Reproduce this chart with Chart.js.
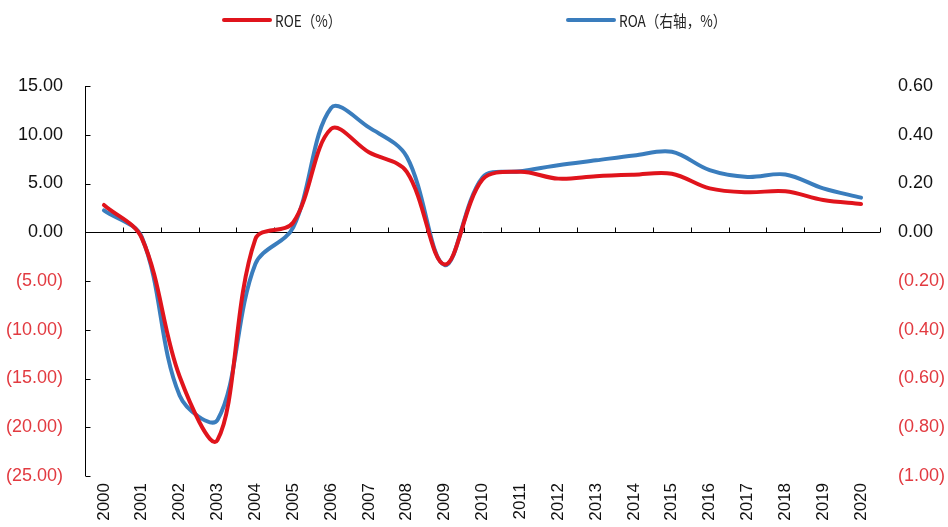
<!DOCTYPE html>
<html>
<head>
<meta charset="utf-8">
<script src="https://cdn.jsdelivr.net/npm/chart.js@4.4.0/dist/chart.umd.min.js"></script>
<style>
  html, body { margin: 0; padding: 0; background: #fff; }
  #wrap { position: relative; width: 948px; height: 527px; }
  #legend { position: absolute; top: 0; left: 0; width: 948px; height: 40px; font-family: "Noto Sans CJK SC", sans-serif; font-size: 16px; color: #222; }
  .item { position: absolute; top: 10px; display: flex; align-items: center; height: 20px; }
  .swatch { width: 50px; height: 4px; border-radius: 2px; margin-right: 3px; }
  .label { display: inline-block; transform: scaleX(0.85); transform-origin: left center; white-space: nowrap; }
</style>
</head>
<body>
<div id="wrap">
  <div id="legend"></div>
  <canvas id="chart" width="948" height="527"></canvas>
</div>
<script>
const years = ['2000', '2001', '2002', '2003', '2004', '2005', '2006', '2007', '2008', '2009', '2010',
  '2011', '2012', '2013', '2014', '2015', '2016', '2017', '2018', '2019', '2020'];
const roe = [2.8, -0.6, -14.8, -21.3, -0.7, 1.0, 10.6, 8.2, 6.2, -3.3, 5.4,
  6.2, 5.5, 5.75, 5.9, 6.0, 4.5, 4.1, 4.2, 3.3, 2.9];
const roa = [0.09, -0.02, -0.67, -0.77, -0.13, 0.02, 0.51, 0.43, 0.31, -0.135, 0.225,
  0.25, 0.275, 0.295, 0.315, 0.33, 0.255, 0.227, 0.237, 0.18, 0.142];
const seriesNames = ['ROE（%）', 'ROA（右轴，%）'];

const RED = '#e0141c';
const BLUE = '#3a7dbd';
const NEG_LABEL = '#e23a40';

// (5.00) style for negatives, as in accounting formats
function fmt(v) {
  const s = Math.abs(v).toFixed(2);
  return v < -1e-9 ? '(' + s + ')' : s;
}

// axis line on the left and the zero line, both with inward ticks
const axisLines = {
  id: 'axisLines',
  beforeDatasetsDraw(chart) {
    const { ctx, chartArea: a, scales: { x, y } } = chart;
    ctx.save();
    ctx.strokeStyle = '#000';
    ctx.lineWidth = 1;
    ctx.beginPath();
    const left = Math.round(a.left) + 0.5;
    ctx.moveTo(left, a.top);
    ctx.lineTo(left, a.bottom);
    y.ticks.forEach(t => {
      const py = Math.round(y.getPixelForValue(t.value)) + 0.5;
      ctx.moveTo(left, py);
      ctx.lineTo(left + 5, py);
    });
    const zy = Math.round(y.getPixelForValue(0)) + 0.5;
    ctx.moveTo(a.left, zy);
    ctx.lineTo(a.right, zy);
    const step = x.getPixelForValue(1) - x.getPixelForValue(0);
    for (let i = 0; i <= years.length; i++) {
      const px = Math.round(x.getPixelForValue(0) - step / 2 + i * step) + 0.5;
      ctx.moveTo(px, zy);
      ctx.lineTo(px, zy - 5);
    }
    ctx.stroke();
    ctx.restore();
  }
};

const tickFont = { family: 'Liberation Sans, Arial, sans-serif', size: 17 };

const chart = new Chart(document.getElementById('chart'), {
  type: 'line',
  data: {
    labels: years,
    datasets: [
      {
        label: seriesNames[0],
        data: roe,
        yAxisID: 'y',
        borderColor: RED,
        backgroundColor: RED,
        borderWidth: 4,
        tension: 0.35,
        pointRadius: 0,
        borderCapStyle: 'round'
      },
      {
        label: seriesNames[1],
        data: roa,
        yAxisID: 'y1',
        borderColor: BLUE,
        backgroundColor: BLUE,
        borderWidth: 4,
        tension: 0.35,
        pointRadius: 0,
        borderCapStyle: 'round'
      }
    ]
  },
  options: {
    responsive: false,
    animation: false,
    layout: { padding: { top: 86, left: 0, right: 0, bottom: 0 } },
    plugins: {
      legend: { display: false },
      tooltip: { enabled: false }
    },
    scales: {
      x: {
        offset: true,
        grid: { display: false, drawTicks: false },
        border: { display: false },
        ticks: {
          color: '#111',
          font: tickFont,
          minRotation: 90,
          maxRotation: 90,
          padding: 7,
          autoSkip: false
        },
        afterFit(s) { s.height = 51; }
      },
      y: {
        position: 'left',
        min: -25,
        max: 15,
        grid: { display: false, drawTicks: false },
        border: { display: false },
        ticks: {
          stepSize: 5,
          padding: 22,
          font: { family: 'Liberation Sans, Arial, sans-serif', size: 18 },
          color: c => (c.tick.value < 0 ? NEG_LABEL : '#111'),
          callback: v => fmt(v)
        },
        afterFit(s) { s.width = 85; }
      },
      y1: {
        position: 'right',
        min: -1,
        max: 0.6,
        grid: { display: false, drawTicks: false },
        border: { display: false },
        ticks: {
          stepSize: 0.2,
          padding: 18,
          font: { family: 'Liberation Sans, Arial, sans-serif', size: 18 },
          color: c => (c.tick.value < -1e-9 ? NEG_LABEL : '#111'),
          callback: v => fmt(v)
        },
        afterFit(s) { s.width = 68; }
      }
    }
  },
  plugins: [axisLines]
});

// legend entries built from the datasets
const legend = document.getElementById('legend');
const legendX = [222, 566];
chart.data.datasets.forEach((ds, i) => {
  const item = document.createElement('div');
  item.className = 'item';
  item.style.left = legendX[i] + 'px';
  item.innerHTML = '<span class="swatch" style="background:' + ds.borderColor + '"></span>' +
    '<span class="label">' + ds.label + '</span>';
  legend.appendChild(item);
});
</script>
</body>
</html>
